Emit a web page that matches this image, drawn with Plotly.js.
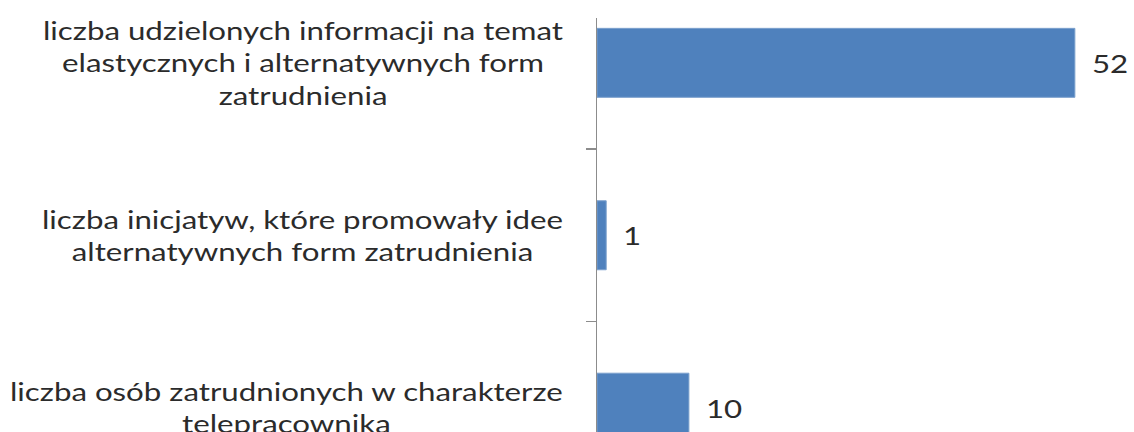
<!DOCTYPE html>
<html>
<head>
<meta charset="utf-8">
<script src="https://cdn.plot.ly/plotly-3.0.1.min.js"></script>
<style>
html,body{margin:0;padding:0;background:#fff;}
#chart{width:1134px;height:432px;}
.annotation-text{transform:scaleX(1.25);transform-box:fill-box;transform-origin:center;}
</style>
</head>
<body>
<div id="chart"></div>
<script>
const categories = [
  "liczba udzielonych informacji na temat<br>elastycznych i alternatywnych form<br>zatrudnienia",
  "liczba inicjatyw, które promowały idee<br>alternatywnych form zatrudnienia",
  "liczba osób zatrudnionych w charakterze<br>telepracownika"
];
const values = [52, 1, 10];

const FONT = "Lato, sans-serif";
const annotations = [];
categories.forEach((c, i) => {
  annotations.push({
    x: 0, xref: "paper", xshift: -32, xanchor: "right",
    y: c, yref: "y", yanchor: "middle",
    text: c, align: "center", showarrow: false,
    font: {family: FONT, size: 25, color: "#2b2b2b"}
  });
  annotations.push({
    x: values[i], xref: "x", xanchor: "left", xshift: 15,
    y: c, yref: "y", yanchor: "middle",
    text: String(values[i]), showarrow: false,
    font: {family: FONT, size: 25, color: "#2b2b2b"}
  });
});

const trace = {
  type: "bar", orientation: "h",
  x: values, y: categories,
  marker: {color: "#4F81BD", line: {color: "#7BA0CD", width: 1}},
  hoverinfo: "none"
};

const layout = {
  width: 1134, height: 432,
  margin: {l: 597, r: 4, t: 18, b: 0},
  paper_bgcolor: "#ffffff", plot_bgcolor: "#ffffff",
  showlegend: false,
  bargap: 0.6,
  xaxis: {range: [0, 58], visible: false, showgrid: false, zeroline: false},
  yaxis: {
    type: "category",
    range: [2.141, -0.26],
    showticklabels: false,
    showline: true, linecolor: "#8c8c8c", linewidth: 1.5,
    ticks: "outside", tickson: "boundaries", ticklen: 10, tickcolor: "#8c8c8c", tickwidth: 1.5,
    showgrid: false, zeroline: false
  },
  annotations: annotations
};

Plotly.newPlot("chart", [trace], layout, {staticPlot: true, displayModeBar: false});
</script>
</body>
</html>
